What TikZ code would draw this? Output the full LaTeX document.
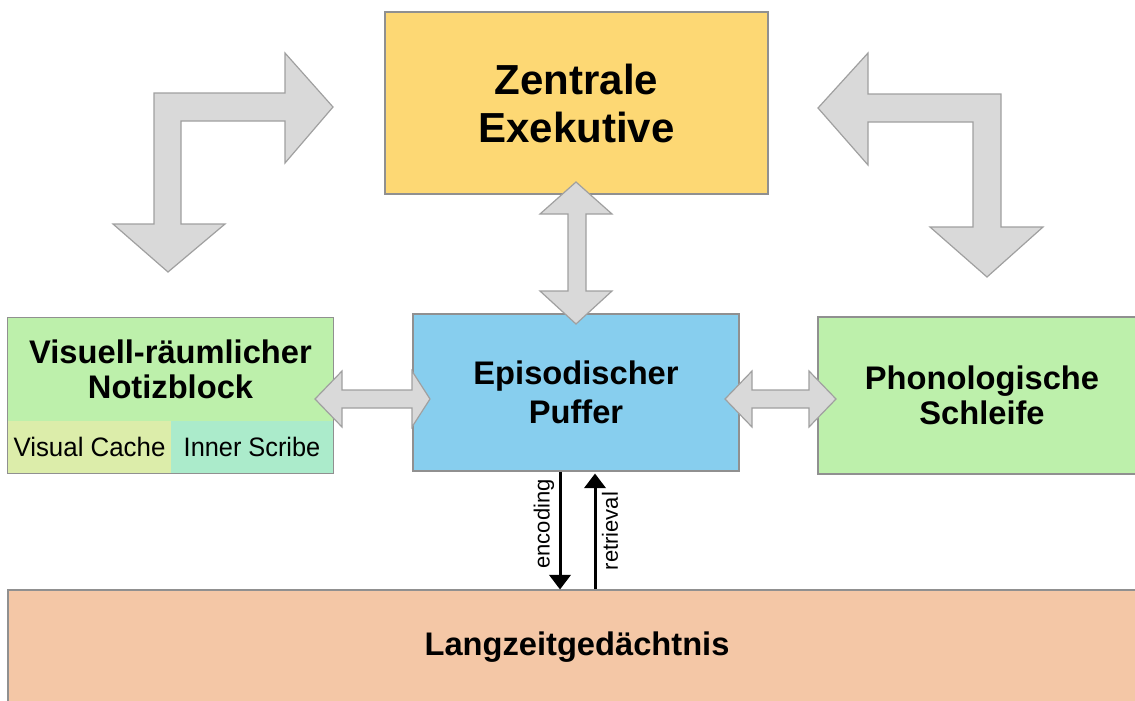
\documentclass[tikz,border=0pt]{standalone}
\usepackage{fontspec}
\setmainfont{Liberation Sans}
\usetikzlibrary{arrows.meta,fit,calc}
\definecolor{exeyellow}{HTML}{FDD874}
\definecolor{bufblue}{HTML}{87CEEE}
\definecolor{sysgreen}{HTML}{BDF0AB}
\definecolor{cachegreen}{HTML}{DCEDAA}
\definecolor{scribemint}{HTML}{ABEBCB}
\definecolor{ltmpeach}{HTML}{F4C7A6}
\definecolor{arrowfill}{HTML}{D9D9D9}
\definecolor{arrowgray}{HTML}{A0A0A0}
\definecolor{boxgray}{HTML}{909090}
\begin{document}
\begin{tikzpicture}[x=0.75pt,y=-0.75pt,
  box/.style={draw=boxgray, line width=0.8pt, inner sep=0pt, align=center, font=\bfseries},
  cell/.style={inner sep=0pt, align=center, minimum height=39pt},
  blockarrow/.style={fill=arrowfill, draw=arrowgray, line width=0.9pt, line join=miter},
  memarrow/.style={line width=2.25pt, -{Triangle[width=16pt,length=11pt]}},
  memlabel/.style={font=\fontsize{16.5}{18}\selectfont, rotate=90, inner sep=0pt}]
\useasboundingbox (0,0) rectangle (1135,700);
\clip (0,0) rectangle (1135,700);

% --- components of working memory ---
\node[box, fill=exeyellow, minimum width=287.25pt, minimum height=136.5pt,
      font=\bfseries\fontsize{31.5}{36}\selectfont] (ze) at (576.5,103)
      {Zentrale\\Exekutive};
\node[box, fill=bufblue, minimum width=244.5pt, minimum height=117.75pt,
      font=\bfseries\fontsize{24.5}{29}\selectfont] (pf) at (576,392.5)
      {Episodischer\\Puffer};
\node[box, fill=sysgreen, minimum width=246pt, minimum height=117.75pt,
      font=\bfseries\fontsize{24.5}{26.5}\selectfont] (pl) at (982,395.5)
      {Phonologische\\Schleife};
\node[box, fill=ltmpeach, minimum width=853.5pt, minimum height=85.5pt,
      font=\bfseries\fontsize{24.5}{29}\selectfont] (lz) at (577,647)
      {Langzeitgedächtnis};

% visuospatial sketchpad with its two sub-components
\node[inner sep=0pt, fill=sysgreen, align=center, minimum width=243.75pt, minimum height=77.25pt,
      font=\bfseries\fontsize{24.5}{26.5}\selectfont] (vtop) at (170.5,369.5)
      {Visuell-räumlicher\\Notizblock};
\node[cell, fill=cachegreen, minimum width=122.25pt] (cache) at (89.5,447)
      {\fontsize{20}{22}\selectfont\scalebox{0.97}[1]{Visual Cache}};
\node[cell, fill=scribemint, minimum width=121.5pt] (scribe) at (252,447)
      {\fontsize{20}{22}\selectfont\scalebox{0.95}[1]{Inner Scribe}};
\node[draw=boxgray, line width=0.8pt, inner sep=0pt, fit=(vtop)(cache)(scribe)] (vsn) {};

% --- block arrows ---
% executive <-> sketchpad
\draw[blockarrow] (333,107) -- (285,163) -- (285,121) -- (181,121) -- (181,224)
  -- (225,224) -- (168,272) -- (113,224) -- (154,224) -- (154,93) -- (285,93)
  -- (285,53) -- cycle;
% executive <-> phonological loop
\draw[blockarrow] (818,108) -- (868,53) -- (868,94) -- (1001,94) -- (1001,227)
  -- (1043,227) -- (987,277) -- (930,227) -- (973,227) -- (973,122) -- (868,122)
  -- (868,165) -- cycle;
% executive <-> buffer
\draw[blockarrow] (576,182) -- (612,214) -- (586,214) -- (586,291) -- (612,291)
  -- (576,324) -- (540,291) -- (568,291) -- (568,214) -- (540,214) -- cycle;
% sketchpad <-> buffer
\draw[blockarrow] (315,399) -- (342,371) -- (342,390) -- (412,390) -- (412,371)
  -- (430,399) -- (412,427) -- (412,408) -- (342,408) -- (342,427) -- cycle;
% buffer <-> phonological loop
\draw[blockarrow] (725,399) -- (752,371) -- (752,390) -- (809,390) -- (809,371)
  -- (836,399) -- (809,427) -- (809,408) -- (752,408) -- (752,427) -- cycle;

% --- exchange with long-term memory ---
\draw[memarrow] ($(pf.south)+(-16,0)$) -- ($(lz.north)+(-17,0)$);
\draw[memarrow] ($(lz.north)+(18,0)$) -- ($(pf.south)+(19,2)$);
\node[memlabel] (enc) at (544,524) {encoding};
\node[memlabel] (ret) at (610,531) {retrieval};
\end{tikzpicture}
\end{document}
